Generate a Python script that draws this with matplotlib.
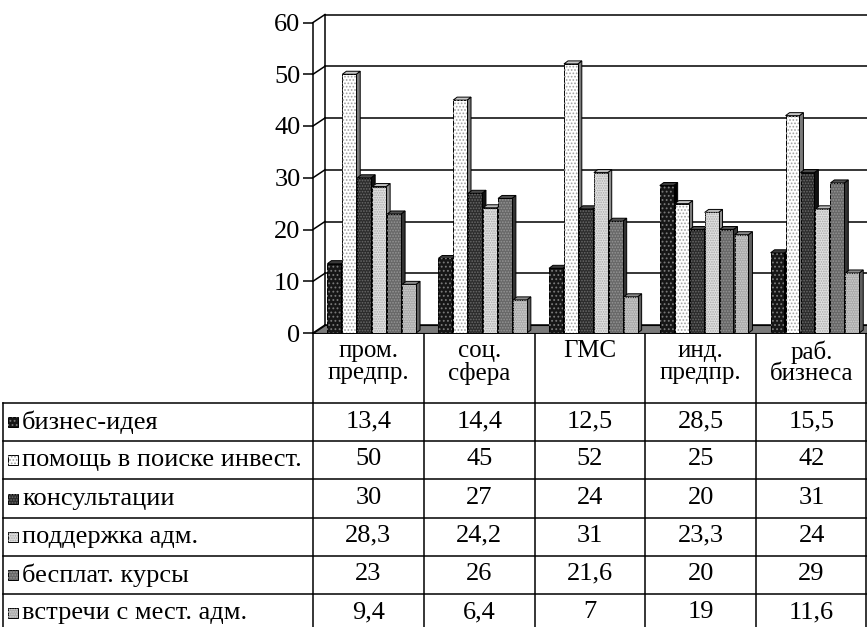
import matplotlib.pyplot as plt
from matplotlib.patches import Polygon, Rectangle

plt.rcParams['font.family'] = ['Liberation Serif', 'DejaVu Serif']
plt.rcParams['hatch.linewidth'] = 0.8

categories = ['пром.\nпредпр.', 'соц.\nсфера', 'ГМС', 'инд.\nпредпр.', 'раб.\nбизнеса']
series = ['бизнес-идея', 'помощь в поиске инвест.', 'консультации',
          'поддержка адм.', 'бесплат. курсы', 'встречи с мест. адм.']
biz_idea = [13.4, 14.4, 12.5, 28.5, 15.5]
invest = [50, 45, 52, 25, 42]
consult = [30, 27, 24, 20, 31]
adm_support = [28.3, 24.2, 31, 23.3, 24]
courses = [23, 26, 21.6, 20, 29]
meetings = [9.4, 6.4, 7, 19, 11.6]
values = [biz_idea, invest, consult, adm_support, courses, meetings]
yticks = [0, 10, 20, 30, 40, 50, 60]

# face, hatch, hatch colour, side colour, top colour
styles = [
    ('#161616', '....', '#7a7a7a', '#000000', '#3a3a3a'),
    ('#ffffff', '.....', '#a0a0a0', '#7a7a7a', '#c8c8c8'),
    ('#2c2c2c', '......', '#6a6a6a', '#111111', '#4a4a4a'),
    ('#e0e0e0', '.......', '#a8a8a8', '#8f8f8f', '#bcbcbc'),
    ('#686868', '......', '#959595', '#333333', '#505050'),
    ('#a9a9a9', '.......', '#d2d2d2', '#5e5e5e', '#8a8a8a'),
]

W, H = 867, 627
X0, X1 = 313, 867          # front edge of the plot in pixels
Y0, Y60 = 333, 22.5        # pixel rows of 0 and 60 on the front axis
ppy = (Y0 - Y60) / 60
ppx = (X1 - X0) / len(categories)

fig = plt.figure(figsize=(W / 100, H / 100), dpi=100)

# table under the chart
tab = fig.add_axes([0, 0, 1, 1])
tab.set_xlim(0, W)
tab.set_ylim(H, 0)
tab.axis('off')

ax = fig.add_axes([X0 / W, (H - Y0) / H, (X1 - X0) / W, (Y0 - 10) / H])
ax.set_xlim(0, len(categories))
ax.set_ylim(0, (Y0 - 10) / ppy)
ax.patch.set_visible(False)

dx, dy = 12 / ppx, 8 / ppy      # back wall offset
bdx, bdy = 4 / ppx, 3 / ppy     # bar depth
lw = 1.1

# back wall grid and side wall connectors
for v in yticks:
    ax.plot([dx, len(categories)], [v + dy, v + dy], color='black', lw=lw, zorder=1, clip_on=False)
    ax.plot([0, dx], [v, v + dy], color='black', lw=lw, zorder=1, clip_on=False)
ax.plot([dx, dx], [dy, 60 + dy], color='black', lw=lw, zorder=1)

# floor
ax.add_patch(Polygon([(0, 0), (len(categories), 0), (len(categories), dy), (dx, dy)],
                     closed=True, facecolor='#7a7a7a', edgecolor='black', lw=0.8, zorder=2))

start, pitch, bw = 0.13, 0.135, 0.125
for i in range(len(categories)):
    for s, vals in enumerate(values):
        face, hatch, hcol, side, top = styles[s]
        v = vals[i]
        x = i + start + s * pitch
        ax.add_patch(Polygon([(x + bw, 0), (x + bw + bdx, bdy), (x + bw + bdx, v + bdy), (x + bw, v)],
                             closed=True, facecolor=side, edgecolor='black', lw=0.7, zorder=3))
        ax.add_patch(Polygon([(x, v), (x + bdx, v + bdy), (x + bw + bdx, v + bdy), (x + bw, v)],
                             closed=True, facecolor=top, edgecolor='black', lw=0.7, zorder=3))
        ax.bar(x, v, width=bw, bottom=0, align='edge', color=face, edgecolor='black', lw=0.7, zorder=3)
        ax.bar(x, v, width=bw, bottom=0, align='edge', color='none', edgecolor=hcol, hatch=hatch, lw=0, zorder=3)

for side in ['top', 'right', 'bottom']:
    ax.spines[side].set_visible(False)
ax.spines['left'].set_bounds(0, 60)
ax.spines['left'].set_linewidth(lw)
ax.set_xticks([])
ax.set_yticks(yticks)
ax.tick_params(axis='y', direction='out', length=7, width=lw, labelsize=19, pad=2)

# table grid
col_x = [X0 + ppx * k for k in range(len(categories) + 1)]
head_bottom = 403
row_h = 38.2
row_y = [head_bottom + row_h * k for k in range(len(series) + 1)]
tab.plot([X0, W], [Y0, Y0], color='black', lw=1.4)
for y in row_y:
    tab.plot([3, W], [y, y], color='black', lw=lw)
tab.plot([3, 3], [head_bottom, H], color='black', lw=lw)
for k, x in enumerate(col_x):
    tab.plot([min(x, W - 0.8)] * 2, [Y0, H], color='black', lw=lw)

fs = 19
for k, name in enumerate(categories):
    tab.text((col_x[k] + col_x[k + 1]) / 2, Y0 + 7, name, ha='center', va='top',
             fontsize=18, linespacing=1.0)

for s, name in enumerate(series):
    face, hatch, hcol, side, top = styles[s]
    yc = row_y[s] + row_h / 2
    tab.add_patch(Rectangle((8, yc - 5), 10, 10, facecolor=face, edgecolor='black', lw=0.7))
    tab.add_patch(Rectangle((8, yc - 5), 10, 10, facecolor='none', edgecolor=hcol, hatch=hatch, lw=0))
    tab.text(22, yc, name, ha='left', va='center', fontsize=fs)
    for i, v in enumerate(values[s]):
        label = f'{v:g}'.replace('.', ',')
        tab.text((col_x[i] + col_x[i + 1]) / 2, yc - 1, label, ha='center', va='center', fontsize=fs)

fig.savefig('out.png', dpi=100)
